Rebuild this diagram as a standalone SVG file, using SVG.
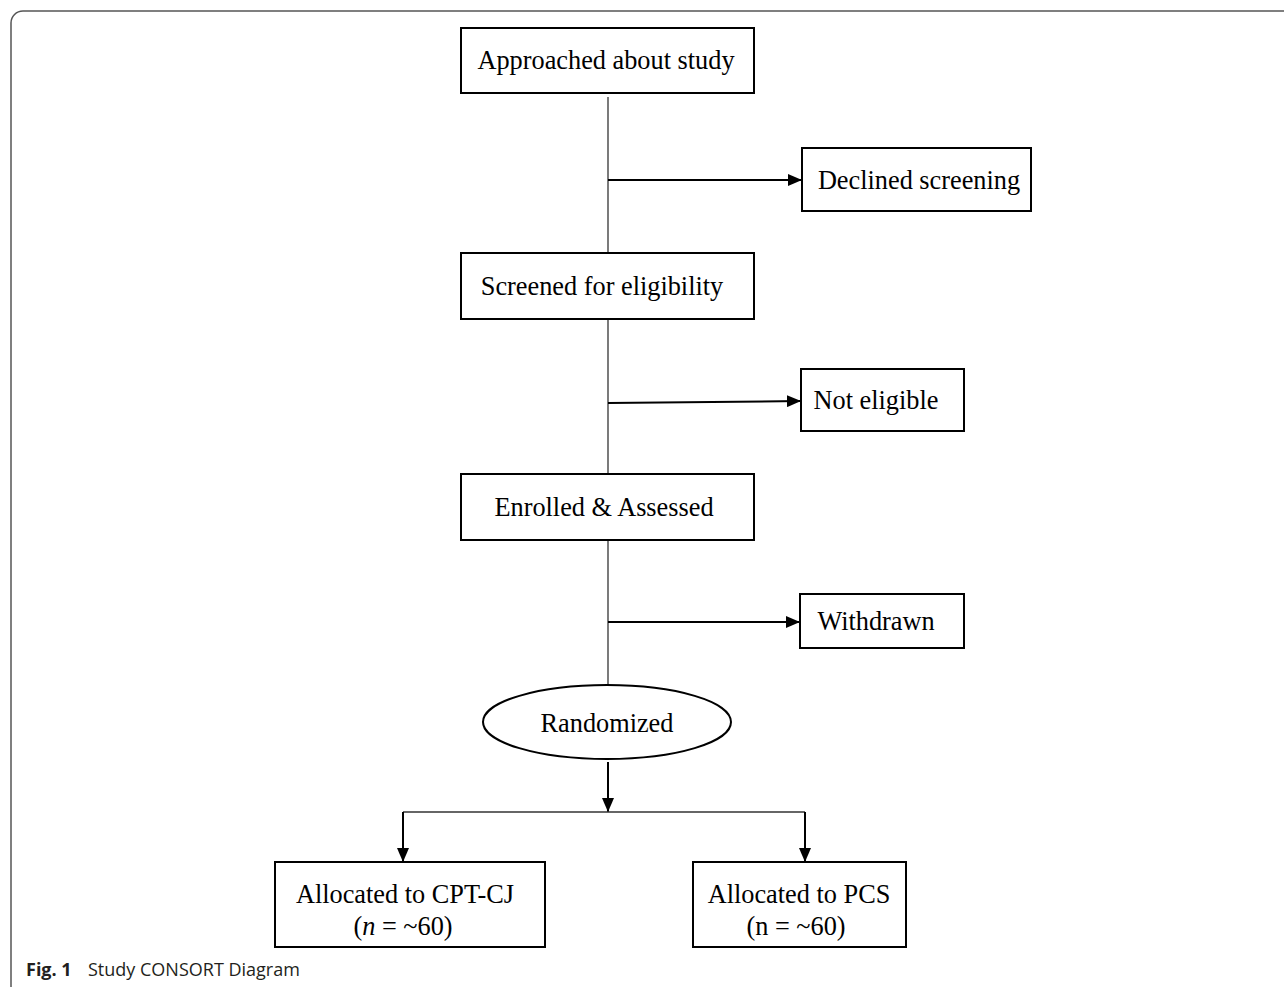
<svg xmlns="http://www.w3.org/2000/svg" width="1284" height="987" viewBox="0 0 1284 987">
<defs>
<marker id="ah" viewBox="0 0 14 12" refX="14" refY="6" markerWidth="14" markerHeight="12" markerUnits="userSpaceOnUse" orient="auto">
<path d="M0,0 L14,6 L0,12 Z" fill="#000"/>
</marker>
<style>
.box{fill:#fff;stroke:#000;stroke-width:2}
.t{font-family:"Liberation Serif","Times New Roman",serif;font-size:26.3px;fill:#000;text-anchor:middle}
.ln{stroke:#333;stroke-width:1.3;fill:none}
.ar{stroke:#000;stroke-width:2;fill:none;marker-end:url(#ah)}
.cap{font-family:"Open Sans","Noto Sans",sans-serif;font-size:18px;fill:#231f20}
</style>
</defs>
<rect width="1284" height="987" fill="#fff"/>
<path d="M11 987 V23 A12 12 0 0 1 23 11 H1284" fill="none" stroke="#555" stroke-width="1.5"/>
<g id="connectors">
<line class="ln" x1="608" y1="97" x2="608" y2="253"/>
<line class="ln" x1="608" y1="319" x2="608" y2="474"/>
<line class="ln" x1="608" y1="540" x2="608" y2="684"/>
<line class="ar" x1="608" y1="180" x2="802" y2="180"/>
<line class="ar" x1="608" y1="403" x2="801" y2="401"/>
<line class="ar" x1="608" y1="622" x2="800" y2="622"/>
<line class="ar" x1="608" y1="762" x2="608" y2="812"/>
<line class="ln" x1="403" y1="812" x2="805" y2="812"/>
<line class="ar" x1="403" y1="812" x2="403" y2="862"/>
<line class="ar" x1="805" y1="812" x2="805" y2="862"/>
</g>
<g id="approached">
<rect class="box" x="461" y="28" width="293" height="65"/>
<text class="t" x="606" y="69">Approached about study</text>
</g>
<g id="declined">
<rect class="box" x="802" y="148" width="229" height="63"/>
<text class="t" x="919" y="189">Declined screening</text>
</g>
<g id="screened">
<rect class="box" x="461" y="253" width="293" height="66"/>
<text class="t" x="602" y="295">Screened for eligibility</text>
</g>
<g id="noteligible">
<rect class="box" x="801" y="369" width="163" height="62"/>
<text class="t" x="876" y="409">Not eligible</text>
</g>
<g id="enrolled">
<rect class="box" x="461" y="474" width="293" height="66"/>
<text class="t" x="604" y="516">Enrolled &amp; Assessed</text>
</g>
<g id="withdrawn">
<rect class="box" x="800" y="594" width="164" height="54"/>
<text class="t" x="876" y="630">Withdrawn</text>
</g>
<g id="randomized">
<ellipse cx="607" cy="722" rx="124" ry="37" fill="#fff" stroke="#000" stroke-width="2"/>
<text class="t" x="607" y="732">Randomized</text>
</g>
<g id="cptcj">
<rect class="box" x="275" y="862" width="270" height="85"/>
<text class="t" x="405" y="903">Allocated to CPT-CJ</text>
<text class="t" x="403" y="935">(<tspan font-style="italic">n</tspan> = ~60)</text>
</g>
<g id="pcs">
<rect class="box" x="693" y="862" width="213" height="85"/>
<text class="t" x="799" y="903">Allocated to PCS</text>
<text class="t" x="796" y="935">(n = ~60)</text>
</g>
<g id="caption">
<text class="cap" x="26" y="976"><tspan font-weight="bold">Fig. 1</tspan><tspan x="88">Study CONSORT Diagram</tspan></text>
</g>
</svg>
